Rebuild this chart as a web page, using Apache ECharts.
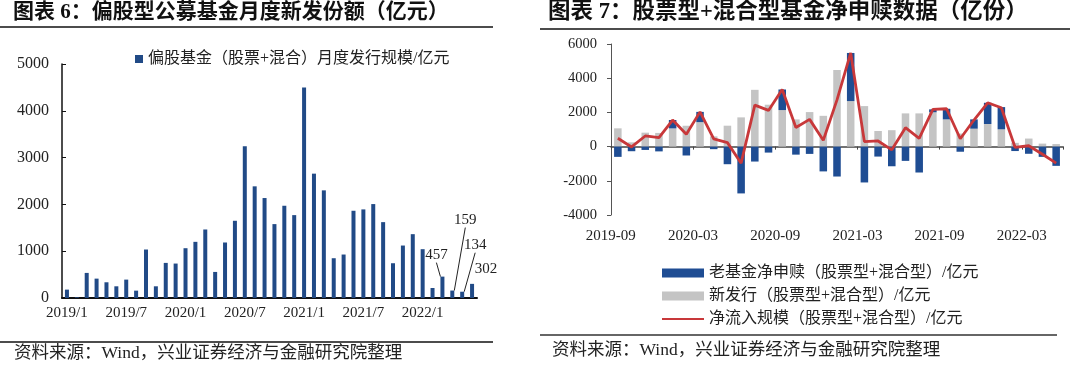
<!DOCTYPE html>
<html><head><meta charset="utf-8">
<script src="https://cdn.jsdelivr.net/npm/echarts/dist/echarts.min.js"></script>
<style>html,body{margin:0;padding:0;background:#fff}#c{width:1080px;height:370px}</style>
</head><body><div id="c"></div><script>
// ---------- Left chart data ----------
const leftCats = ['2019/1','2019/2','2019/3','2019/4','2019/5','2019/6','2019/7','2019/8','2019/9','2019/10','2019/11','2019/12',
  '2020/1','2020/2','2020/3','2020/4','2020/5','2020/6','2020/7','2020/8','2020/9','2020/10','2020/11','2020/12',
  '2021/1','2021/2','2021/3','2021/4','2021/5','2021/6','2021/7','2021/8','2021/9','2021/10','2021/11','2021/12',
  '2022/1','2022/2','2022/3','2022/4','2022/5','2022/6'];
const leftValues = [179, 15, 536, 414, 336, 250, 393, 157, 1036, 250, 750, 736,
  1064, 1200, 1464, 557, 1186, 1650, 3243, 2386, 2136, 1579, 1971, 1771,
  4500, 2657, 2300, 850, 929, 1864, 1893, 2007, 1621, 743, 1121, 1364,
  1043, 214, 457, 159, 134, 302];
const leftLabeled = ['2022/3','2022/4','2022/5','2022/6'];
const leftYTicks = [0, 1000, 2000, 3000, 4000, 5000];

// ---------- Right chart data ----------
const rightCats = ['2019-09','2019-10','2019-11','2019-12','2020-01','2020-02','2020-03','2020-04','2020-05','2020-06','2020-07','2020-08',
  '2020-09','2020-10','2020-11','2020-12','2021-01','2021-02','2021-03','2021-04','2021-05','2021-06','2021-07','2021-08',
  '2021-09','2021-10','2021-11','2021-12','2022-01','2022-02','2022-03','2022-04','2022-05'];
const newIssue = [1068, 250, 815, 800, 1064, 1220, 1430, 600, 1223, 1709, 3320, 2450,
  2136, 1590, 2019, 1800, 4480, 2660, 2369, 913, 960, 1942, 1942, 2007,
  1592, 760, 1048, 1320, 1010, 220, 470, 175, 150];
const oldNet = [-600, -270, -195, -280, 490, -520, 600, -150, -1030, -2738, -874, -350,
  1204, -470, -427, -1450, -1750, 2816, -2097, -583, -1150, -835, -1515, 170,
  620, -300, 544, 1243, 1300, -260, -420, -600, -1126];
const netFlow = [485, -20, 621, 520, 1554, 718, 2030, 450, 233, -970, 2427, 2117,
  3340, 1120, 1592, 370, 2730, 5476, 291, 330, -190, 1107, 485, 2177,
  2213, 460, 1553, 2563, 2272, -40, 50, -447, -970];
const rightYTicks = [-4000, -2000, 0, 2000, 4000, 6000];

// ---------- text ----------
const leftTitle = '图表 6：偏股型公募基金月度新发份额（亿元）';
const rightTitle = '图表 7：股票型+混合型基金净申赎数据（亿份）';
const leftSeriesName = '偏股基金（股票+混合）月度发行规模/亿元';
const nameOld = '老基金净申赎（股票型+混合型）/亿元';
const nameNew = '新发行（股票型+混合型）/亿元';
const nameNet = '净流入规模（股票型+混合型）/亿元';
const sourceText = '资料来源：Wind，兴业证券经济与金融研究院整理';

// ---------- styles ----------
const FONT = "'Liberation Serif','Noto Sans CJK SC',serif";
const labelOffsets = { '2022/3': [-6, -9, true], '2022/4': [13, -58, true], '2022/5': [13, -34, true], '2022/6': [14, -2, false] };

const chart = echarts.init(document.getElementById('c'), null, { renderer: 'canvas' });

const leftData = leftValues.map((v, i) => {
  const cat = leftCats[i];
  if (leftLabeled.indexOf(cat) >= 0) {
    return { value: v, label: { show: true }, labelLine: { show: labelOffsets[cat][2] } };
  }
  return v;
});

const plain = v => String(v);

const option = {
  animation: false,
  backgroundColor: '#fff',
  textStyle: { fontFamily: FONT },
  graphic: [
    { type: 'text', left: 13, top: 2, style: { text: leftTitle, font: "bold 21px 'Liberation Serif','Noto Sans CJK SC',serif", fill: '#111' } },
    { type: 'text', left: 548, top: 1, style: { text: rightTitle, font: "bold 22.5px 'Liberation Serif','Noto Sans CJK SC',serif", fill: '#111' } },
    { type: 'line', shape: { x1: 0, y1: 27, x2: 493, y2: 27 }, style: { stroke: '#111', lineWidth: 1.5 } },
    { type: 'line', shape: { x1: 540, y1: 29, x2: 1070, y2: 29 }, style: { stroke: '#111', lineWidth: 1.5 } },
    { type: 'line', shape: { x1: 0, y1: 342, x2: 493, y2: 342 }, style: { stroke: '#111', lineWidth: 1.5 } },
    { type: 'line', shape: { x1: 540, y1: 335, x2: 1057, y2: 335 }, style: { stroke: '#333', lineWidth: 1.5 } },
    { type: 'text', left: 14, top: 345, style: { text: sourceText, font: "17.5px 'Liberation Serif','Noto Sans CJK SC',serif", fill: '#222' } },
    { type: 'text', left: 552, top: 342, style: { text: sourceText, font: "17.5px 'Liberation Serif','Noto Sans CJK SC',serif", fill: '#222' } }
  ],
  legend: [
    {
      data: [leftSeriesName], left: 130, top: 46, itemWidth: 8, itemHeight: 8, icon: 'rect',
      textStyle: { fontSize: 16, color: '#222', fontFamily: FONT }
    },
    {
      data: [
        { name: nameOld, icon: 'rect' },
        { name: nameNew, icon: 'rect' },
        { name: nameNet, itemStyle: { opacity: 0 } }
      ],
      orient: 'vertical', left: 656, top: 260,
      itemWidth: 42, itemHeight: 9, itemGap: 7,
      textStyle: { fontSize: 16, color: '#222', fontFamily: FONT, lineHeight: 16 }
    }
  ],
  grid: [
    { left: 62, width: 415, top: 64, height: 234, containLabel: false },
    { left: 611, width: 452, top: 44, height: 171, containLabel: false }
  ],
  xAxis: [
    {
      gridIndex: 0, type: 'category', data: leftCats,
      axisLine: { lineStyle: { color: '#111', width: 2 } },
      axisTick: { show: false },
      axisLabel: { interval: 5, fontSize: 15, color: '#222', margin: 8, fontFamily: FONT }
    },
    {
      gridIndex: 1, type: 'category', data: rightCats, position: 'bottom',
      axisLine: { show: false, onZero: false }, axisTick: { show: false },
      axisLabel: { interval: 5, fontSize: 15, color: '#222', margin: 14, padding: [0, 14, 0, 0], fontFamily: FONT }
    },
    {
      gridIndex: 1, type: 'category', data: rightCats,
      axisLine: { show: true, onZero: true, lineStyle: { color: '#444', width: 1.5 } },
      axisTick: { show: true, interval: 5, inside: true, length: 3, lineStyle: { color: '#444' } },
      axisLabel: { show: false }
    }
  ],
  yAxis: [
    {
      gridIndex: 0, type: 'value', min: leftYTicks[0], max: leftYTicks[leftYTicks.length - 1], interval: 1000,
      axisLine: { show: true, lineStyle: { color: '#111', width: 1.5 } },
      axisTick: { show: true, inside: true, length: 4, lineStyle: { color: '#111' } },
      splitLine: { show: false },
      axisLabel: { fontSize: 16, color: '#222', margin: 13, fontFamily: FONT, formatter: plain }
    },
    {
      gridIndex: 1, type: 'value', min: rightYTicks[0], max: rightYTicks[rightYTicks.length - 1], interval: 2000,
      axisLine: { show: true, lineStyle: { color: '#555', width: 1 } },
      axisTick: { show: true, length: 4, lineStyle: { color: '#555' } },
      splitLine: { show: false },
      axisLabel: { fontSize: 14.5, color: '#222', margin: 14, fontFamily: FONT, formatter: plain }
    }
  ],
  series: [
    {
      name: leftSeriesName, type: 'bar', xAxisIndex: 0, yAxisIndex: 0, data: leftData,
      barWidth: 4, itemStyle: { color: '#214a86' },
      label: { show: false, position: 'top', formatter: '{c}', fontSize: 15, color: '#222', fontFamily: FONT },
      labelLine: { show: false, lineStyle: { color: '#222', width: 1 } },
      labelLayout: function (p) {
        const o = labelOffsets[leftCats[p.dataIndex]];
        return o ? { dx: o[0], dy: o[1] } : {};
      }
    },
    {
      name: nameNew, type: 'bar', xAxisIndex: 1, yAxisIndex: 1, data: newIssue, stack: 'flow',
      barWidth: '55%', itemStyle: { color: '#c4c4c4' }
    },
    {
      name: nameOld, type: 'bar', xAxisIndex: 1, yAxisIndex: 1, data: oldNet, stack: 'flow',
      barWidth: '55%', itemStyle: { color: '#1f4d93' }
    },
    {
      name: nameNet, type: 'line', xAxisIndex: 1, yAxisIndex: 1, data: netFlow,
      symbol: 'none', lineStyle: { color: '#c8383a', width: 2.8 }, itemStyle: { color: '#c8383a' }, z: 5
    }
  ]
};
chart.setOption(option);
</script></body></html>
